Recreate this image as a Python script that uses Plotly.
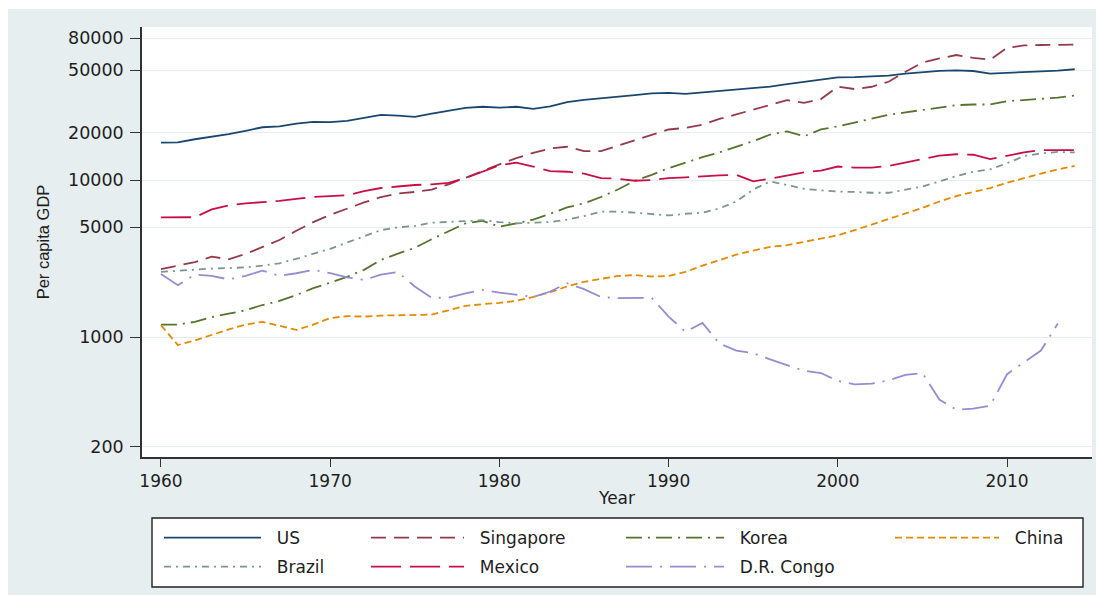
import plotly.graph_objects as go

# ---------------------------------------------------------------- data
years = list(range(1960, 2015))

us = [17300, 17400, 18200, 18800, 19600, 20600, 21700, 22000, 22900, 23500,
      23400, 23800, 24900, 26000, 25700, 25300, 26500, 27500, 28800, 29300,
      28900, 29300, 28400, 29500, 31400, 32400, 33100, 33800, 34800, 35700,
      35900, 35400, 36200, 36800, 37900, 38400, 39400, 40800, 42100, 43600,
      45100, 45200, 45500, 46300, 47700, 48700, 49600, 50000, 49500, 47600,
      48300, 48500, 49300, 49800, 50800]

singapore = [2710, 2850, 3000, 3250, 3130, 3380, 3750, 4150, 4750, 5400,
             6000, 6600, 7200, 7800, 8200, 8400, 8700, 9400, 10300, 11400,
             12600, 13800, 14900, 15900, 16300, 15300, 15300, 16500, 18000, 19400,
             21000, 21500, 22500, 24500, 26200, 28000, 30000, 32300, 31000, 32800,
             39300, 38000, 39300, 42300, 49000, 56000, 59500, 62600, 60000, 58500,
             69500, 72000, 72500, 72800, 72900]

korea = [1200, 1200, 1250, 1340, 1410, 1480, 1600, 1700, 1850, 2050,
         2220, 2420, 2680, 3100, 3400, 3700, 4200, 4700, 5300, 5500,
         5050, 5300, 5600, 6100, 6700, 7100, 7800, 8700, 9900, 10800,
         11900, 12900, 14000, 15000, 16200, 17700, 19500, 20400, 19000, 21000,
         22000, 23300, 24500, 26000, 27000, 27900, 29000, 30000, 30300, 30300,
         31800, 32300, 32700, 33500, 34500]

china = [1190, 890, 950, 1030, 1120, 1200, 1250, 1180, 1110, 1200,
         1320, 1360, 1350, 1370, 1380, 1390, 1390, 1480, 1580, 1620,
         1650, 1700, 1800, 1930, 2100, 2250, 2350, 2450, 2480, 2430,
         2450, 2600, 2850, 3100, 3350, 3550, 3750, 3850, 4050, 4250,
         4450, 4800, 5200, 5650, 6150, 6650, 7300, 7900, 8400, 8900,
         9600, 10300, 11000, 11700, 12300]

brazil = [2600, 2650, 2700, 2730, 2750, 2780, 2850, 2950, 3150, 3400,
          3650, 4000, 4400, 4800, 5000, 5100, 5350, 5400, 5500, 5550,
          5400, 5300, 5350, 5400, 5600, 5900, 6300, 6300, 6200, 6100,
          5950, 6100, 6200, 6600, 7300, 8700, 9800, 9300, 8800, 8600,
          8450, 8400, 8300, 8300, 8700, 9100, 9800, 10600, 11300, 11700,
          12800, 14200, 14800, 15100, 15000]

mexico = [5780, 5780, 5800, 6500, 6900, 7100, 7200, 7380, 7600, 7800,
          7900, 8000, 8500, 8900, 9100, 9300, 9400, 9600, 10300, 11300,
          12400, 12900, 12200, 11400, 11300, 11000, 10300, 10200, 9900, 10000,
          10300, 10400, 10600, 10700, 10800, 9800, 10200, 10700, 11200, 11500,
          12200, 12000, 12000, 12300, 12900, 13500, 14300, 14600, 14500, 13600,
          14300, 15000, 15500, 15500, 15500]

congo = [2520, 2140, 2500, 2450, 2330, 2450, 2650, 2450, 2550, 2680,
         2550, 2400, 2310, 2500, 2600, 2100, 1780, 1780, 1900, 2000,
         1920, 1850, 1800, 1950, 2200, 2020, 1800, 1770, 1780, 1780,
         1350, 1080, 1230, 910, 820, 790, 720, 660, 610, 590,
         525, 500, 505, 530, 575, 590, 400, 345, 350, 365,
         580, 690, 820, 1220, None]

y_ticks = [200, 1000, 5000, 10000, 20000, 50000, 80000]
y_tick_text = ["200", "1000", "5000", "10000", "20000", "50000", "80000"]
x_ticks = [1960, 1970, 1980, 1990, 2000, 2010]
x_tick_text = ["1960", "1970", "1980", "1990", "2000", "2010"]

# ---------------------------------------------------------------- layout geometry
W, H = 1096, 595
PLOT_L, PLOT_R, PLOT_T, PLOT_B = 142, 1092, 27, 457


def px_x(p):
    return (p - PLOT_L) / (PLOT_R - PLOT_L)


def px_y(p):
    return (PLOT_B - p) / (PLOT_B - PLOT_T)


TEXT = "#1e1e1e"
NUM_FONT = "DejaVu Sans"
NBSP = "\u00a0\u00a0"

# name, values, colour, dash pattern, legend column
series = [
    ("US", us, "#1a476f", "solid", "legend"),
    ("Singapore", singapore, "#953a4b", "15px,8px", "legend2"),
    ("Korea", korea, "#55752f", "16px,6px,2px,6px", "legend3"),
    ("China", china, "#e38a00", "7px,4px", "legend4"),
    ("Brazil", brazil, "#7a9690", "7px,5px,2px,5px", "legend"),
    ("Mexico", mexico, "#c80f45", "30px,9px", "legend2"),
    ("D.R. Congo", congo, "#938dd2", "26px,8px,2px,8px", "legend3"),
]

fig = go.Figure()
for name, vals, color, dash, leg in series:
    fig.add_trace(go.Scatter(
        x=years, y=vals, mode="lines", name=NBSP + name,
        line=dict(color=color, width=1.8, dash=dash),
        legend=leg, legendgroup=name, connectgaps=False,
    ))

# legend columns: left edge of each column's line sample and its length
col_left = {"legend": (165, 97), "legend2": (372, 93), "legend3": (627, 98), "legend4": (896, 104)}
LEG_TOP = 520
legends = {}
for key, (left, sample_len) in col_left.items():
    legends[key] = dict(
        x=px_x(left - 6), y=px_y(LEG_TOP),
        orientation="v", xanchor="left", yanchor="top",
        bgcolor="rgba(0,0,0,0)", borderwidth=0, itemwidth=sample_len,
        font=dict(family=NUM_FONT, size=17, color=TEXT),
        tracegroupgap=4,
    )

fig.update_layout(
    width=W, height=H,
    margin=dict(l=PLOT_L, r=W - PLOT_R, t=PLOT_T, b=H - PLOT_B, autoexpand=False),
    paper_bgcolor="white",
    plot_bgcolor="white",
    showlegend=True,
    **legends,
    xaxis=dict(
        range=[1958.88, 2015.02],
        tickvals=x_ticks, ticktext=x_tick_text,
        ticks="outside", ticklen=8, tickwidth=1.4, tickcolor="#333333",
        showline=True, linecolor="#333333", linewidth=1.6,
        showgrid=False, zeroline=False,
        tickfont=dict(family=NUM_FONT, size=17, color=TEXT),
        title=dict(text="Year", font=dict(family=NUM_FONT, size=17, color=TEXT), standoff=2),
    ),
    yaxis=dict(
        type="log", range=[2.236, 4.975],
        tickvals=y_ticks, ticktext=y_tick_text,
        ticks="outside", ticklen=10, tickwidth=1.4, tickcolor="#333333",
        ticklabelstandoff=3,
        showline=True, linecolor="#333333", linewidth=1.6,
        showgrid=True, gridcolor="#e8eef0", gridwidth=1,
        zeroline=False,
        tickfont=dict(family=NUM_FONT, size=17.5, color=TEXT),
        title=dict(text="Per capita GDP", font=dict(family="Liberation Sans", size=16.5, color=TEXT),
                   standoff=14),
    ),
)

# outer graph region (bluish grey) and the legend frame
fig.add_shape(type="rect", xref="paper", yref="paper", layer="below",
              x0=px_x(8), x1=px_x(W + 2), y0=px_y(H + 2), y1=px_y(9),
              fillcolor="#e7eef0", line=dict(width=0))
fig.add_shape(type="rect", xref="paper", yref="paper", layer="below",
              x0=px_x(PLOT_L), x1=px_x(PLOT_R), y0=px_y(PLOT_B), y1=px_y(PLOT_T),
              fillcolor="white", line=dict(width=0))
fig.add_shape(type="rect", xref="paper", yref="paper", layer="below",
              x0=px_x(152), x1=px_x(1083), y0=px_y(587), y1=px_y(518),
              fillcolor="white", line=dict(color="#222222", width=1.4))

fig.write_html("out.html")
